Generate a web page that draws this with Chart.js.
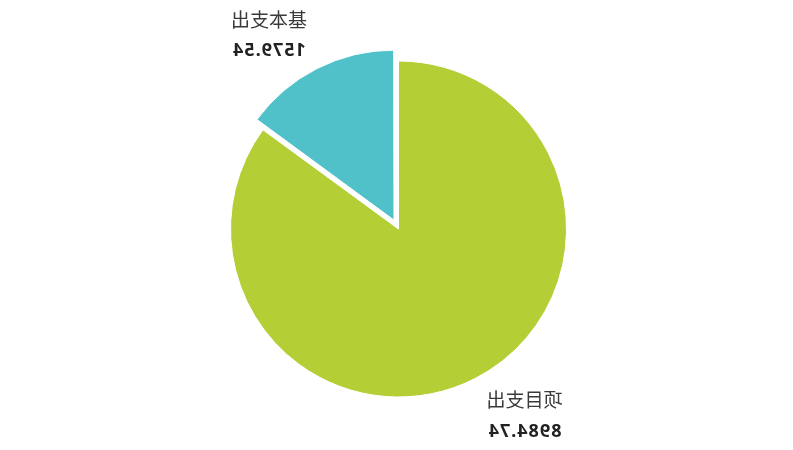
<!DOCTYPE html>
<html>
<head>
<meta charset="utf-8">
<script src="https://cdn.jsdelivr.net/npm/chart.js@4/dist/chart.umd.min.js"></script>
<style>
  html, body { margin: 0; padding: 0; background: #ffffff; }
  #wrap { width: 793px; height: 450px; position: relative; }
  /* the reference picture is a horizontally mirrored rendering */
  #c { transform: scaleX(-1); }
</style>
</head>
<body>
<div id="wrap"><canvas id="c"></canvas></div>
<script>
const categories = ['基本支出', '项目支出'];
const values = [1579.54, 8984.74];
const valueLabels = ['1579.54', '8984.74'];
const colors = ['#50c1c8', '#b4ce36'];
const offsets = [40, 0];

const labelPlugin = {
  id: 'outerLabels',
  afterDatasetsDraw(chart) {
    const ctx = chart.ctx;
    const meta = chart.getDatasetMeta(0);
    meta.data.forEach((arc, i) => {
      const p = arc.getProps(['x', 'y', 'startAngle', 'endAngle', 'outerRadius'], true);
      const mid = (p.startAngle + p.endAngle) / 2;
      const off = (offsets[i] || 0) / 4;
      const px = p.x + Math.cos(mid) * (p.outerRadius + off);
      const py = p.y + Math.sin(mid) * (p.outerRadius + off);
      const cx = px + (Math.cos(mid) >= 0 ? 49 : -50);
      let yName, yVal;
      if (Math.sin(mid) < 0) { yName = py - 50; yVal = py - 19; }
      else { yName = py + 21; yVal = py + 53; }
      ctx.save();
      ctx.textAlign = 'center';
      ctx.textBaseline = 'middle';
      ctx.fillStyle = '#3a3a3a';
      ctx.font = '19px "Noto Sans CJK SC", "Noto Sans", sans-serif';
      ctx.fillText(categories[i], cx, yName);
      ctx.fillStyle = '#222222';
      ctx.font = 'bold 18px "Noto Sans", "DejaVu Sans", sans-serif';
      ctx.letterSpacing = '1px';
      ctx.fillText(valueLabels[i], cx, yVal);
      ctx.restore();
    });
  }
};

new Chart(document.getElementById('c'), {
  type: 'pie',
  data: {
    labels: categories,
    datasets: [{
      data: values,
      backgroundColor: colors,
      borderColor: '#ffffff',
      borderWidth: 1,
      offset: offsets,
      hoverOffset: 0
    }]
  },
  options: {
    responsive: true,
    maintainAspectRatio: false,
    animation: false,
    layout: { padding: { top: 40.5, bottom: 32.5, left: 0, right: 4 } },
    plugins: {
      legend: { display: false },
      tooltip: { enabled: false }
    }
  },
  plugins: [labelPlugin]
});
</script>
</body>
</html>
